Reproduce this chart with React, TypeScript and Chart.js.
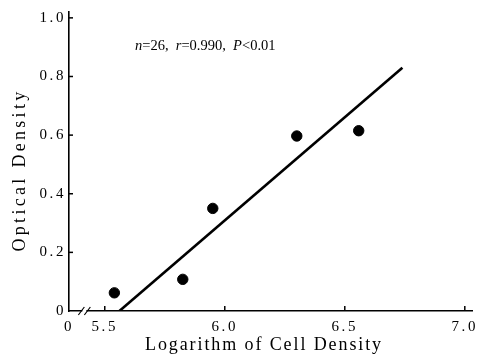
import { useEffect, useRef } from "react";
import { Chart, registerables } from "chart.js";
Chart.register(...registerables);

const pointX = [5.54, 5.825, 5.95, 6.3, 6.558];
const pointY = [0.062, 0.108, 0.35, 0.597, 0.615];
const fitX = [5.561, 6.74];
const fitY = [0, 0.83];
const xTickValues = [5.351, 5.5, 6.0, 6.5, 7.0];
const xTickLabels = ["0", "5.5", "6.0", "6.5", "7.0"];
const yTickValues = [0, 0.2, 0.4, 0.6, 0.8, 1.0];
const yTickLabels = ["0", "0.2", "0.4", "0.6", "0.8", "1.0"];
const xTitle = "Logarithm of Cell Density";
const yTitle = "Optical Density";
const statParts: { t: string; i: boolean }[] = [
  { t: "n", i: true },
  { t: "=26,\u2002", i: false },
  { t: "r", i: true },
  { t: "=0.990,\u2002", i: false },
  { t: "P", i: true },
  { t: "<0.01", i: false },
];

const SERIF = "'Liberation Serif', 'Times New Roman', serif";

const decorPlugin = {
  id: "decor",
  beforeDraw(chart: any) {
    chart.ctx.letterSpacing = "2.6px";
  },
  afterDraw(chart: any) {
    const ctx = chart.ctx as CanvasRenderingContext2D;
    const { left, bottom } = chart.chartArea;
    const xs = chart.scales.x;
    const ys = chart.scales.y;
    ctx.save();
    ctx.strokeStyle = "#000";
    ctx.lineWidth = 1.5;
    // inward ticks
    yTickValues.forEach((v) => {
      if (v === 0) return;
      const py = ys.getPixelForValue(v);
      ctx.beginPath();
      ctx.moveTo(left, py);
      ctx.lineTo(left + 4, py);
      ctx.stroke();
    });
    xTickValues.forEach((v, i) => {
      if (i === 0) return;
      const px = xs.getPixelForValue(v);
      ctx.beginPath();
      ctx.moveTo(px, bottom);
      ctx.lineTo(px, bottom - 5);
      ctx.stroke();
    });
    // axis break
    const bx = xs.getPixelForValue(5.415);
    ctx.fillStyle = "#fff";
    ctx.fillRect(bx - 2, bottom - 2, 4, 4);
    ctx.lineWidth = 1.2;
    [-3, 3].forEach((d) => {
      ctx.beginPath();
      ctx.moveTo(bx + d - 3, bottom + 4);
      ctx.lineTo(bx + d + 3, bottom - 4);
      ctx.stroke();
    });
    // titles
    ctx.fillStyle = "#000";
    ctx.textBaseline = "alphabetic";
    ctx.textAlign = "center";
    ctx.font = `18px ${SERIF}`;
    (ctx as any).letterSpacing = "1.9px";
    ctx.fillText(xTitle, 264, 350);
    ctx.save();
    ctx.translate(25, 170);
    ctx.rotate(-Math.PI / 2);
    (ctx as any).letterSpacing = "3.3px";
    ctx.fillText(yTitle, 0, 0);
    ctx.restore();
    // stats annotation
    (ctx as any).letterSpacing = "0px";
    ctx.textAlign = "left";
    let x = 135;
    const y = 50;
    statParts.forEach((p) => {
      ctx.font = `${p.i ? "italic " : ""}14.5px ${SERIF}`;
      ctx.fillText(p.t, x, y);
      x += ctx.measureText(p.t).width;
    });
    ctx.restore();
  },
};

export default function App() {
  const ref = useRef<HTMLCanvasElement>(null);
  useEffect(() => {
    document.body.style.margin = "0";
    const canvas = ref.current!;
    const chart = new Chart(canvas, {
      type: "scatter",
      data: {
        datasets: [
          {
            type: "scatter",
            data: pointX.map((x, i) => ({ x, y: pointY[i] })),
            backgroundColor: "#000",
            borderColor: "#000",
            pointRadius: 5.2,
            pointHoverRadius: 5.2,
          },
          {
            type: "line",
            data: fitX.map((x, i) => ({ x, y: fitY[i] })),
            borderColor: "#000",
            borderWidth: 2.6,
            pointRadius: 0,
            fill: false,
          } as any,
        ],
      },
      options: {
        responsive: false,
        animation: false,
        layout: { padding: { top: 12, right: 11, left: 0, bottom: 0 } },
        plugins: { legend: { display: false }, tooltip: { enabled: false } },
        scales: {
          x: {
            type: "linear",
            min: 5.351,
            max: 7.03,
            afterBuildTicks: (s: any) => {
              s.ticks = xTickValues.map((v) => ({ value: v }));
            },
            afterFit: (s: any) => {
              s.height = 45;
            },
            grid: { display: false, drawTicks: false },
            border: { display: true, color: "#000", width: 1.6 },
            ticks: {
              autoSkip: false,
              maxRotation: 0,
              padding: 7,
              color: "#000",
              font: { family: SERIF, size: 15 },
              callback: (_v: any, i: number) => xTickLabels[i],
            },
          },
          y: {
            type: "linear",
            min: 0,
            max: 1.02,
            afterBuildTicks: (s: any) => {
              s.ticks = yTickValues.map((v) => ({ value: v }));
            },
            afterFit: (s: any) => {
              s.width = 69;
            },
            grid: { display: false, drawTicks: false },
            border: { display: true, color: "#000", width: 1.6 },
            ticks: {
              padding: 3,
              color: "#000",
              font: { family: SERIF, size: 15 },
              callback: (_v: any, i: number) => yTickLabels[i],
            },
          },
        },
      },
      plugins: [decorPlugin],
    } as any);
    return () => chart.destroy();
  }, []);
  return <canvas ref={ref} width={483} height={356} style={{ display: "block" }} />;
}
